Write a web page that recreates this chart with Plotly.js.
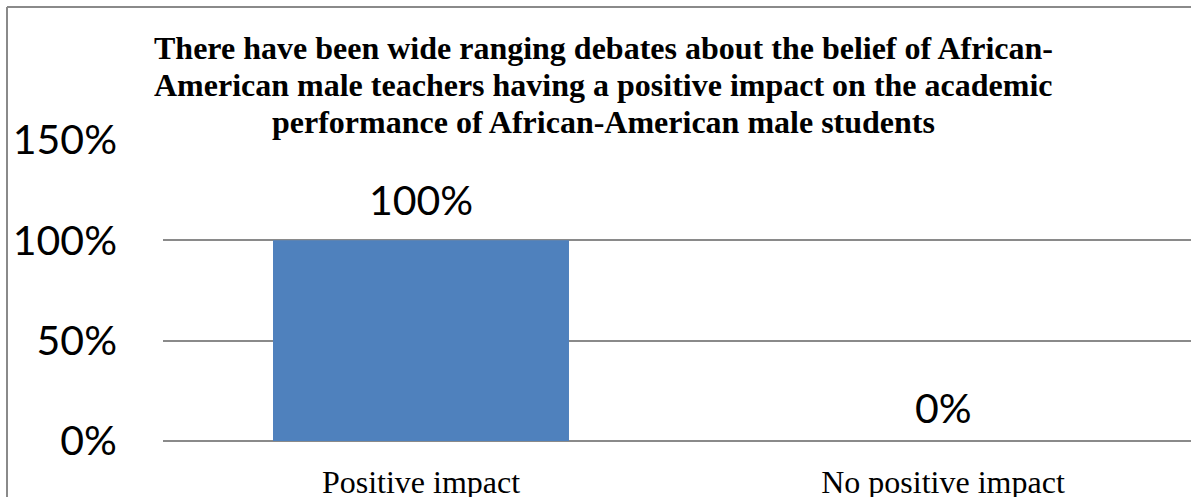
<!DOCTYPE html>
<html>
<head>
<meta charset="utf-8">
<script src="https://cdn.plot.ly/plotly-3.0.1.min.js"></script>
<style>
  html, body { margin: 0; padding: 0; background: #ffffff; }
  #chart { width: 1191px; height: 497px; }
</style>
</head>
<body>
<div id="chart"></div>
<script>
// ---- data ----
const categories = ["Positive impact", "No positive impact"];
const values = [1.00, 0.00];
const valueLabels = ["100%", "0%"];
const yTickValues = [0, 0.5, 1.0, 1.5];
const yTickLabels = ["0%", "50%", "100%", "150%"];
const titleLines = [
  "There have been wide ranging debates about the belief of African-",
  "American male teachers having a positive impact on the academic",
  "performance of African-American male students"
];

// ---- layout constants (pixels) ----
const W = 1191, H = 497;
const plotLeft = 163, plotRight = 1191, plotTop = 140, plotBottom = 441;
const catSpacing = 522, firstCenter = 421;
const xRange = [(plotLeft - firstCenter) / catSpacing, (plotRight - firstCenter) / catSpacing];
const plotW = plotRight - plotLeft, plotH = plotBottom - plotTop;
const px2paperX = p => (p - plotLeft) / plotW;
const px2paperY = p => (plotBottom - p) / plotH;

const gridColor = "#8a8a8a";
const borderColor = "#8a8a8a";
const serif = "'Liberation Serif', 'Times New Roman', serif";
const sans = "Lato, 'Open Sans', sans-serif";

const trace = {
  type: "bar",
  x: categories,
  y: values,
  width: 0.567,
  marker: { color: "#4f81bd", line: { width: 0 } },
  hoverinfo: "skip"
};

const labelAnnotations = categories.map((c, i) => ({
  x: c, y: values[i], xref: "x", yref: "y",
  text: valueLabels[i], showarrow: false,
  yanchor: "bottom", yshift: values[i] > 0 ? 14 : 7,
  font: { family: sans, size: 41, color: "#000000" }
}));

const titleCentersPx = [48, 85, 122];
const titleAnnotations = titleLines.map((t, i) => ({
  xref: "paper", yref: "paper",
  x: px2paperX(603), y: px2paperY(titleCentersPx[i]),
  xanchor: "center", yanchor: "middle",
  text: "<b>" + t + "</b>", showarrow: false,
  font: { family: serif, size: 32, color: "#000000" }
}));

const layout = {
  width: W, height: H,
  paper_bgcolor: "#ffffff",
  plot_bgcolor: "#ffffff",
  margin: { l: plotLeft, r: W - plotRight, t: plotTop, b: H - plotBottom, pad: 0, autoexpand: false },
  showlegend: false,
  xaxis: {
    type: "category",
    range: xRange,
    showgrid: false, zeroline: false, showline: false,
    ticks: "", ticklabelstandoff: 19,
    tickfont: { family: serif, size: 32, color: "#000000" },
    fixedrange: true
  },
  yaxis: {
    range: [0, 1.5],
    tickmode: "array", tickvals: yTickValues, ticktext: yTickLabels,
    showgrid: true, gridcolor: gridColor, gridwidth: 2,
    zeroline: true, zerolinecolor: gridColor, zerolinewidth: 2,
    showline: false, ticks: "", ticklabelstandoff: 45,
    tickfont: { family: sans, size: 41, color: "#000000" },
    fixedrange: true
  },
  annotations: titleAnnotations.concat(labelAnnotations),
  shapes: [
    { type: "line", xref: "paper", yref: "paper",
      x0: px2paperX(7), x1: px2paperX(7), y0: px2paperY(7), y1: px2paperY(H + 5),
      line: { color: borderColor, width: 2 } },
    { type: "line", xref: "paper", yref: "paper",
      x0: px2paperX(7), x1: px2paperX(W + 5), y0: px2paperY(7), y1: px2paperY(7),
      line: { color: borderColor, width: 2 } }
  ]
};

Plotly.newPlot("chart", [trace], layout, { displayModeBar: false, staticPlot: true });
</script>
</body>
</html>
